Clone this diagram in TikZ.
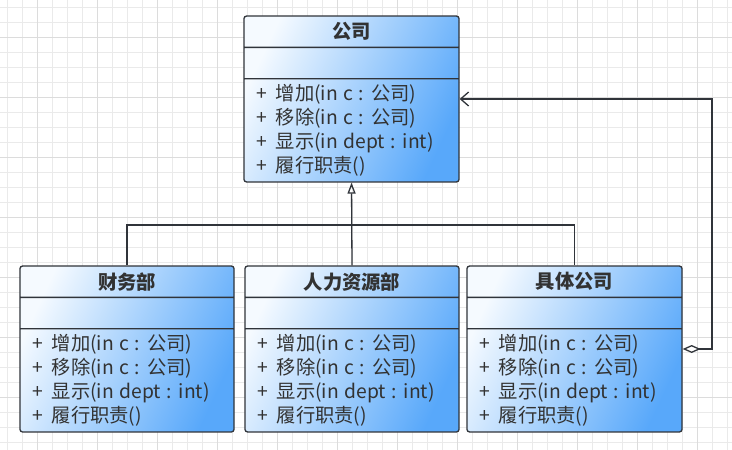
\documentclass[tikz,border=0pt]{standalone}
\usepackage{fontspec}
\setmainfont{Noto Sans CJK SC}
\usetikzlibrary{shapes.multipart,arrows.meta}
\definecolor{linec}{RGB}{48,52,58}
\definecolor{txtc}{RGB}{50,50,50}
\definecolor{bluer}{RGB}{88,168,250}
\definecolor{bluel}{RGB}{245,250,255}
\definecolor{gridc}{RGB}{234,234,234}
\definecolor{gridd}{RGB}{220,220,220}
\newcommand{\opslist}{%
+\hspace{9pt}增加(in c : 公司)\\
+\hspace{9pt}移除(in c : 公司)\\
+\hspace{9pt}显示(in dept : int)\\
+\hspace{9pt}履行职责()}
\begin{document}
\begin{tikzpicture}[x=1pt, y=-1pt,
  cls/.style={rectangle split, rectangle split parts=3, draw=linec, line width=1.3pt,
    rounded corners=2.5pt, left color=bluel, right color=bluer, shading angle=65,
    inner xsep=0pt, inner ysep=0pt, text=txtc, font=\fontsize{19.3}{24}\selectfont},
  line/.style={draw=linec, line width=1.3pt}]
\useasboundingbox (0,0) rectangle (732,450);
\fill[white] (0,0) rectangle (732,450);
\foreach \k in {0,...,48} \draw[gridc, line width=0.6pt] (7.5+15*\k,0) -- (7.5+15*\k,450);
\foreach \k in {0,...,29} \draw[gridc, line width=0.6pt] (0,7.5+15*\k) -- (732,7.5+15*\k);
\foreach \k in {0,...,11} \draw[gridd, line width=0.6pt] (37.5+60*\k,0) -- (37.5+60*\k,450);
\foreach \k in {0,...,7} \draw[gridd, line width=0.6pt] (0,37.5+60*\k) -- (732,37.5+60*\k);

\node[cls](gs) at (351.5,99){\parbox[c][30pt][c]{215pt}{\centering\bfseries 公司}
  \nodepart{second}\parbox[c][30pt][c]{215pt}{\mbox{}}
  \nodepart{third}\parbox[c][102pt][c]{215pt}{\leftskip=12pt\spaceskip=5.5pt\opslist}};
\node[cls](cw) at (127,349){\parbox[c][30pt][c]{214pt}{\centering\bfseries 财务部}
  \nodepart{second}\parbox[c][30pt][c]{214pt}{\mbox{}}
  \nodepart{third}\parbox[c][102pt][c]{214pt}{\leftskip=12pt\spaceskip=5.5pt\opslist}};
\node[cls](hr) at (352,349){\parbox[c][30pt][c]{214pt}{\centering\bfseries 人力资源部}
  \nodepart{second}\parbox[c][30pt][c]{214pt}{\mbox{}}
  \nodepart{third}\parbox[c][102pt][c]{214pt}{\leftskip=12pt\spaceskip=5.5pt\opslist}};
\node[cls](jt) at (574.5,349){\parbox[c][30pt][c]{215pt}{\centering\bfseries 具体公司}
  \nodepart{second}\parbox[c][30pt][c]{215pt}{\mbox{}}
  \nodepart{third}\parbox[c][102pt][c]{215pt}{\leftskip=12pt\spaceskip=5.5pt\opslist}};

\coordinate(jn) at (352,225);
\coordinate(turn) at (712,99);

\draw[line](cw.north) |- (jn) -| (jt.north);
\draw[line, -{Triangle[open, length=11pt, width=8pt]}](hr.north) -- (gs.south);
\draw[line, {Diamond[open, length=18pt, width=8pt]}-{Straight Barb[length=8pt, width=14pt]}]
  (jt.east) -| (turn) -- (gs.east);
\end{tikzpicture}
\end{document}
